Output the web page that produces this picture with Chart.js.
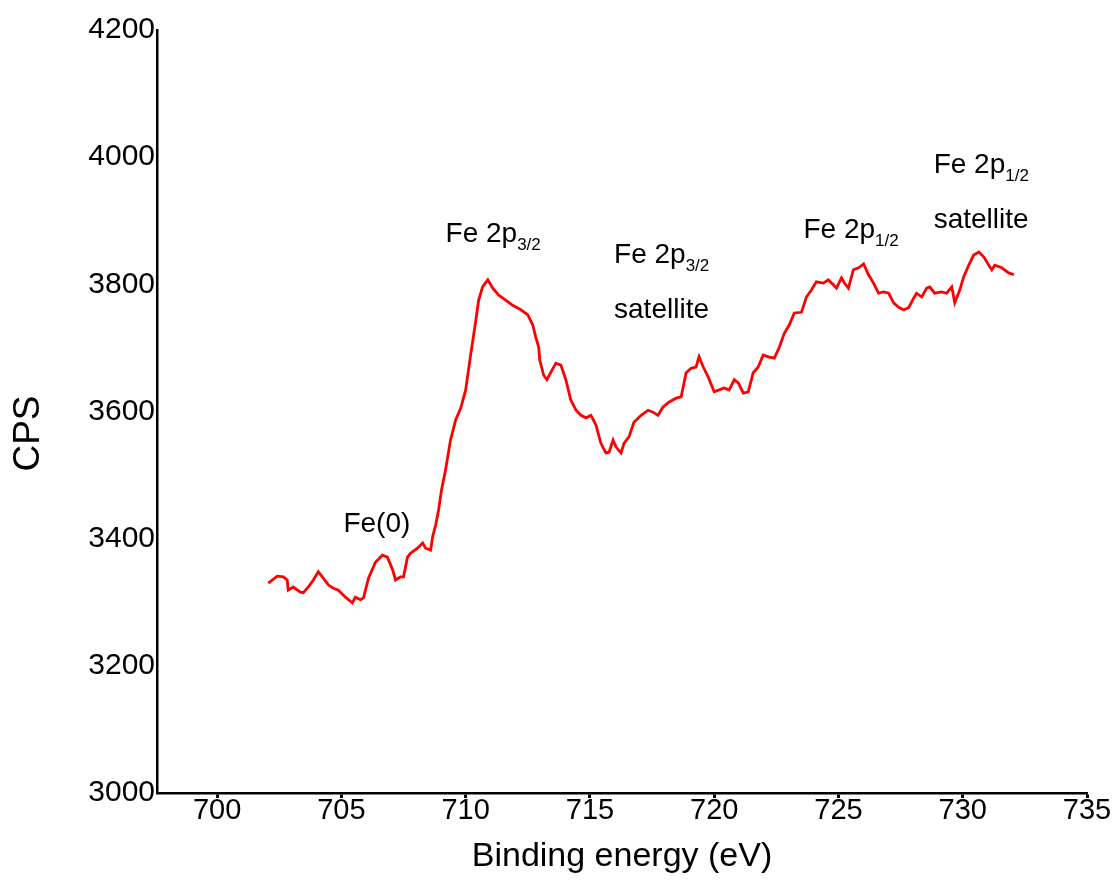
<!DOCTYPE html>
<html>
<head>
<meta charset="utf-8">
<title>Fe 2p XPS</title>
<script src="https://cdn.jsdelivr.net/npm/chart.js@4/dist/chart.umd.min.js"></script>
<style>
  html, body { margin: 0; padding: 0; background: #fff; }
  #wrap { width: 1114px; height: 884px; }
</style>
</head>
<body>
<div id="wrap"><canvas id="xpsChart" width="1114" height="884"></canvas></div>
<script>
// Fe 2p region, binding energy (eV) vs counts per second
const bindingEnergy = [
  702.06, 702.42, 702.66, 702.82, 702.86, 703.06, 703.35, 703.47, 703.67, 703.87,
  704.07, 704.27, 704.48, 704.68, 704.88, 705.16, 705.44, 705.56, 705.77, 705.89,
  706.09, 706.37, 706.65, 706.85, 707.06, 707.18, 707.38, 707.50, 707.66, 707.78,
  708.06, 708.27, 708.39, 708.59, 708.67, 708.79, 708.91, 709.03, 709.19, 709.39,
  709.60, 709.80, 710.00, 710.20, 710.40, 710.52, 710.68, 710.89, 711.09, 711.33,
  711.61, 711.89, 712.22, 712.50, 712.70, 712.82, 712.94, 712.98, 713.14, 713.27,
  713.43, 713.63, 713.83, 714.03, 714.23, 714.44, 714.64, 714.84, 715.04, 715.24,
  715.44, 715.64, 715.77, 715.93, 716.05, 716.25, 716.37, 716.57, 716.77, 717.06,
  717.34, 717.54, 717.74, 717.94, 718.19, 718.47, 718.67, 718.87, 719.07, 719.27,
  719.39, 719.56, 719.76, 720.00, 720.20, 720.40, 720.60, 720.81, 720.97, 721.17,
  721.37, 721.57, 721.77, 721.97, 722.18, 722.42, 722.62, 722.82, 723.02, 723.22,
  723.51, 723.71, 723.91, 724.11, 724.39, 724.59, 724.80, 724.92, 725.12, 725.24,
  725.40, 725.60, 725.81, 726.01, 726.21, 726.41, 726.61, 726.81, 727.02, 727.22,
  727.42, 727.62, 727.82, 728.02, 728.14, 728.35, 728.55, 728.67, 728.87, 729.15,
  729.35, 729.56, 729.68, 729.88, 730.04, 730.24, 730.44, 730.65, 730.85, 731.05,
  731.17, 731.29, 731.57, 731.85, 732.06
];
const cps = [
  3330, 3341, 3340, 3335, 3319, 3324, 3316, 3315, 3324, 3335,
  3348, 3338, 3327, 3322, 3319, 3308, 3299, 3308, 3304, 3307,
  3338, 3363, 3374, 3371, 3351, 3335, 3340, 3340, 3371, 3377,
  3385, 3393, 3385, 3382, 3403, 3421, 3445, 3477, 3508, 3555,
  3587, 3605, 3634, 3689, 3741, 3775, 3796, 3807, 3794, 3783,
  3775, 3767, 3760, 3752, 3736, 3717, 3701, 3681, 3657, 3650,
  3662, 3676, 3673, 3650, 3618, 3602, 3594, 3590, 3594, 3579,
  3550, 3535, 3536, 3555, 3544, 3535, 3550, 3560, 3583, 3594,
  3602, 3599, 3594, 3607, 3615, 3621, 3623, 3661, 3668, 3670,
  3686, 3670, 3654, 3631, 3634, 3637, 3634, 3650, 3645, 3629,
  3631, 3661, 3670, 3689, 3686, 3684, 3701, 3723, 3736, 3755,
  3756, 3780, 3791, 3804, 3802, 3807, 3799, 3794, 3810, 3802,
  3794, 3823, 3826, 3832, 3815, 3802, 3786, 3788, 3786, 3771,
  3764, 3760, 3763, 3778, 3786, 3780, 3794, 3796, 3786, 3788,
  3786, 3796, 3771, 3791, 3812, 3830, 3846, 3851, 3843, 3830,
  3823, 3830, 3826, 3818, 3815
];

// axis ranges and ticks
const xMin = 697.58, xMax = 735, xStep = 5;
const yMin = 3000, yMax = 4200, yStep = 200;
const yTitle = 'CPS';

// peak labels: main text, subscript, optional second line, anchored at (energy, cps)
const peakLabels = [
  { text: 'Fe(0)', sub: '', line2: '', x: 705.08, y: 3410 },
  { text: 'Fe 2p', sub: '3/2', line2: '', x: 709.19, y: 3867 },
  { text: 'Fe 2p', sub: '3/2', line2: 'satellite', x: 715.97, y: 3834 },
  { text: 'Fe 2p', sub: '1/2', line2: '', x: 723.59, y: 3873 },
  { text: 'Fe 2p', sub: '1/2', line2: 'satellite', x: 728.83, y: 3975 }
];

const FONT = "'Liberation Sans', Arial, sans-serif";

const peakLabelPlugin = {
  id: 'peakLabels',
  afterDatasetsDraw(chart) {
    const { ctx, scales } = chart;
    ctx.save();
    ctx.fillStyle = '#000';
    ctx.textAlign = 'left';
    ctx.textBaseline = 'alphabetic';
    peakLabels.forEach(lbl => {
      const px = scales.x.getPixelForValue(lbl.x);
      const py = scales.y.getPixelForValue(lbl.y);
      ctx.font = '28px ' + FONT;
      ctx.fillText(lbl.text, px, py);
      if (lbl.sub) {
        const w = ctx.measureText(lbl.text).width;
        ctx.font = '17px ' + FONT;
        ctx.fillText(lbl.sub, px + w, py + 8);
      }
      if (lbl.line2) {
        ctx.font = '28px ' + FONT;
        ctx.fillText(lbl.line2, px, py + 55);
      }
    });
    ctx.restore();
  }
};

// vertical axis title, sits a little below the middle of the axis
const yTitlePlugin = {
  id: 'yTitle',
  afterDraw(chart) {
    const { ctx, chartArea } = chart;
    ctx.save();
    ctx.translate(29, (chartArea.top + chartArea.bottom) / 2 + 22);
    ctx.rotate(-Math.PI / 2);
    ctx.font = '37px ' + FONT;
    ctx.fillStyle = '#000';
    ctx.textAlign = 'center';
    ctx.textBaseline = 'middle';
    ctx.fillText(yTitle, 0, 0);
    ctx.restore();
  }
};

const ctx = document.getElementById('xpsChart').getContext('2d');
new Chart(ctx, {
  type: 'line',
  data: {
    datasets: [{
      data: bindingEnergy.map((e, i) => ({ x: e, y: cps[i] })),
      borderColor: '#ff0000',
      borderWidth: 2.8,
      pointRadius: 0,
      tension: 0,
      fill: false,
    }],
  },
  options: {
    responsive: false,
    animation: false,
    layout: { padding: { top: 30, right: 27, left: 0, bottom: 0 } },
    plugins: {
      legend: { display: false },
      tooltip: { enabled: false },
    },
    scales: {
      x: {
        type: 'linear',
        min: xMin,
        max: xMax,
        afterFit(scale) { scale.height = 91; },
        ticks: {
          stepSize: xStep,
          includeBounds: false,
          color: '#000',
          padding: -2,
          maxRotation: 0,
          font: { family: FONT, size: 29, lineHeight: 1 },
        },
        grid: {
          display: true,
          drawOnChartArea: false,
          drawTicks: true,
          tickLength: 5,
          tickWidth: 3,
          color: '#000',
        },
        border: { display: true, color: '#000', width: 2.5 },
        title: {
          display: true,
          text: 'Binding energy (eV)',
          color: '#000',
          font: { family: FONT, size: 34 },
          padding: { top: 0, bottom: 7 },
        },
      },
      y: {
        min: yMin,
        max: yMax,
        afterFit(scale) { scale.width = 157; },
        ticks: {
          stepSize: yStep,
          color: '#000',
          padding: -6,
          font: { family: FONT, size: 30 },
          callback: value => String(value),
        },
        grid: { display: false },
        border: { display: true, color: '#000', width: 2.5 },
        title: { display: false },
      },
    },
  },
  plugins: [peakLabelPlugin, yTitlePlugin],
});
</script>
</body>
</html>
